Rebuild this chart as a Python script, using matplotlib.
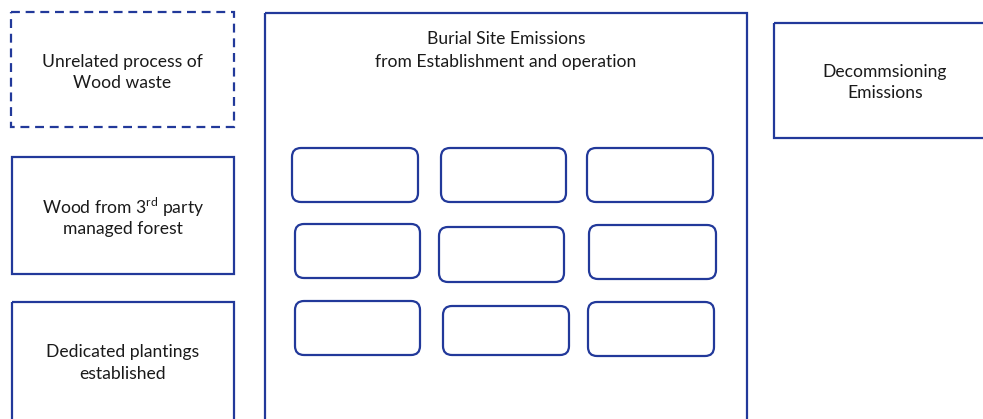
import matplotlib
matplotlib.use("Agg")
from matplotlib import pyplot as plt
from matplotlib.patches import Rectangle, FancyBboxPatch

plt.rcParams['font.family'] = ['Lato', 'DejaVu Sans']
plt.rcParams['mathtext.fontset'] = 'custom'
plt.rcParams['mathtext.rm'] = 'Lato'

EDGE = '#22399a'
TXT = '#1a1a1a'
FS = 12.6
GAP = 22  # pixel distance between text lines

# outer boxes: label, (left, top, right, bottom) in pixels, dashed?
box_labels = ['Unrelated process of\nWood waste',
              'Wood from 3$^{\\mathrm{rd}}$ party\nmanaged forest',
              'Dedicated plantings\nestablished',
              'Decommsioning\nEmissions']
box_left = [11, 12, 12, 774]
box_top = [12, 157, 302, 23]
box_right = [234, 234, 234, 1000]
box_bottom = [127, 274, 430, 138]
box_dashed = [True, False, False, False]
text_y = [71, 216, 361, 81]
text_x = [122, 123, 123, 885]

# big container
big_label = 'Burial Site Emissions\nfrom Establishment and operation'
big_box = (265, 13, 747, 430)
big_text_y = 49

# inner rounded boxes (left, top, right, bottom)
inner_left = [292, 441, 587, 295, 439, 589, 295, 443, 588]
inner_top = [148, 148, 148, 224, 227, 225, 301, 306, 302]
inner_right = [418, 566, 713, 420, 564, 716, 420, 569, 714]
inner_bottom = [202, 202, 202, 278, 282, 279, 355, 355, 356]

fig = plt.figure(figsize=(9.83, 4.19), dpi=100)
ax = fig.add_axes([0, 0, 1, 1])
ax.set_xlim(0, 983)
ax.set_ylim(419, 0)
ax.axis('off')


def put_text(x, y, label):
    lines = label.split('\n')
    n = len(lines)
    for i, line in enumerate(lines):
        yy = y + (i - (n - 1) / 2) * GAP
        ax.text(x, yy, line, ha='center', va='center_baseline',
                fontsize=FS, color=TXT)


for lab, l, t, r, b, d, tx, ty in zip(box_labels, box_left, box_top, box_right,
                                      box_bottom, box_dashed, text_x, text_y):
    ax.add_patch(Rectangle((l, t), r - l, b - t, fill=False, edgecolor=EDGE,
                           linewidth=1.6, linestyle=(0, (4, 2.6)) if d else '-'))
    put_text(tx, ty, lab)

l, t, r, b = big_box
ax.add_patch(Rectangle((l, t), r - l, b - t, fill=False, edgecolor=EDGE, linewidth=1.6))
put_text((l + r) / 2, big_text_y, big_label)

for l, t, r, b in zip(inner_left, inner_top, inner_right, inner_bottom):
    ax.add_patch(FancyBboxPatch((l + 9, t + 9), r - l - 18, b - t - 18,
                                boxstyle='round,pad=9', fill=False,
                                edgecolor=EDGE, linewidth=1.6))

fig.savefig('out.png', dpi=100)
